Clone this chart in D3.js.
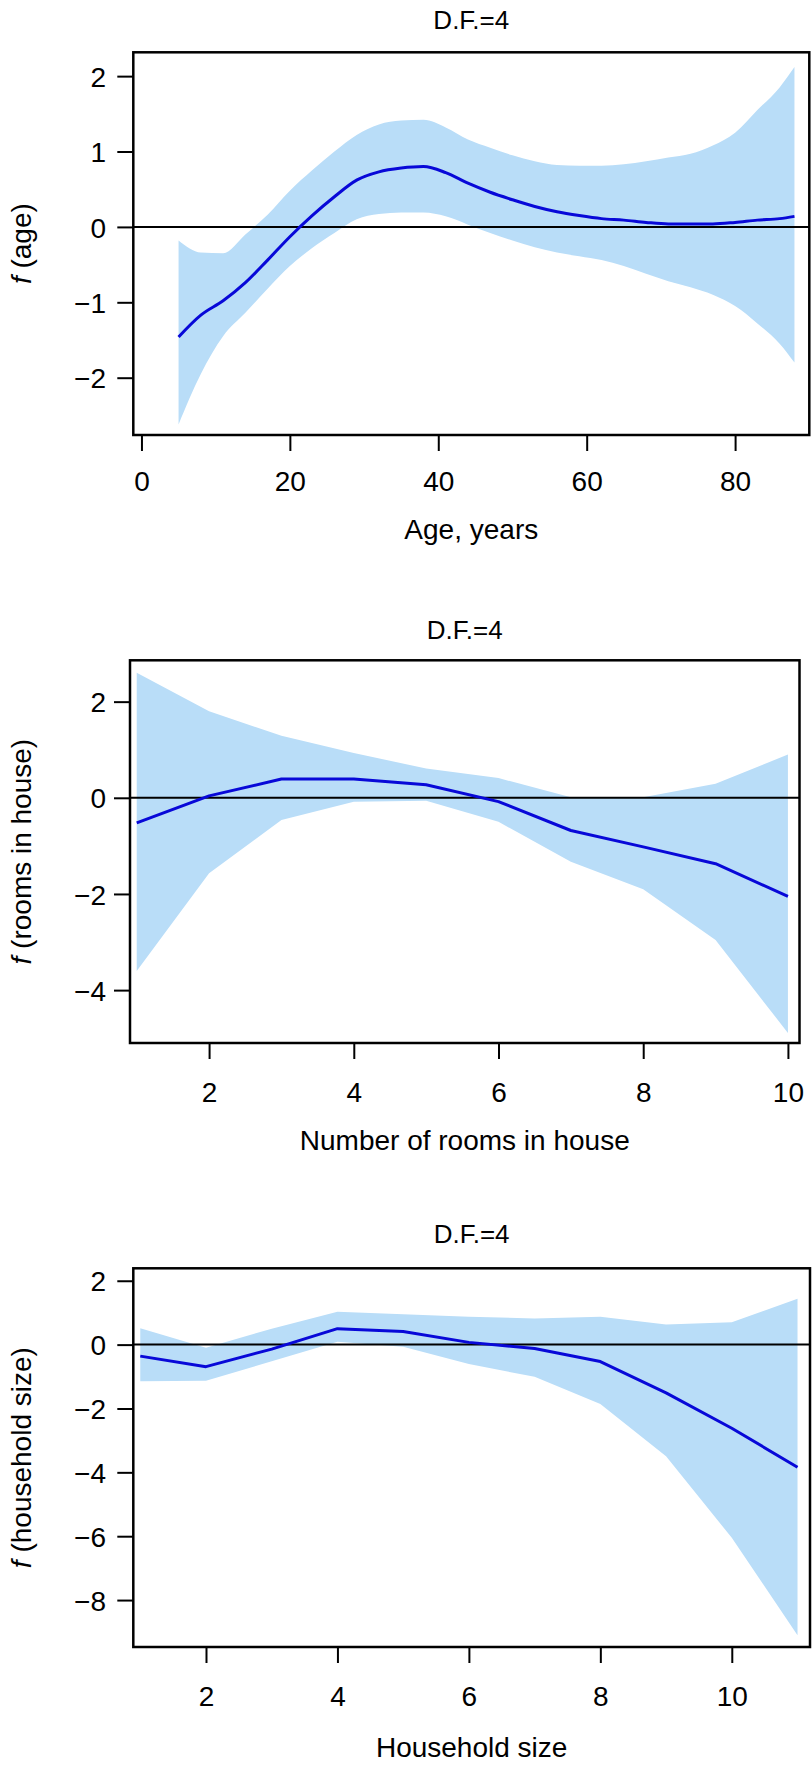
<!DOCTYPE html>
<html>
<head>
<meta charset="utf-8">
<script src="https://cdn.jsdelivr.net/npm/d3@7"></script>
<style>
  body { margin: 0; background: #fff; }
  svg text { font-family: "Liberation Sans", Arial, sans-serif; fill: #000; }
</style>
</head>
<body>
<div id="chart"></div>
<script>
// Smooth-term plots, three panels stacked

// Panel 1: age
const ageX     = [5, 8, 11, 14, 17, 20, 23, 26, 29, 32, 35, 38, 41, 44, 47, 50, 53, 56, 59, 62, 65, 68, 71, 74, 77, 80, 83, 86, 88]
const ageFit   = [-1.46, -1.17, -0.98, -0.74, -0.44, -0.13, 0.15, 0.40, 0.62, 0.73, 0.78, 0.80, 0.72, 0.58, 0.46, 0.36, 0.27, 0.20, 0.15, 0.11, 0.09, 0.06, 0.04, 0.04, 0.04, 0.06, 0.09, 0.11, 0.14]
const ageUpper = [-0.18, -0.34, -0.35, -0.10, 0.16, 0.48, 0.75, 1.00, 1.22, 1.36, 1.41, 1.42, 1.32, 1.16, 1.05, 0.95, 0.87, 0.82, 0.81, 0.81, 0.83, 0.87, 0.92, 0.97, 1.08, 1.25, 1.55, 1.85, 2.12]
const ageLower = [-2.62, -1.95, -1.45, -1.14, -0.82, -0.52, -0.28, -0.08, 0.10, 0.17, 0.19, 0.19, 0.14, 0.03, -0.08, -0.18, -0.27, -0.34, -0.39, -0.44, -0.52, -0.62, -0.72, -0.80, -0.90, -1.05, -1.28, -1.55, -1.80]
const ageXTicks = [0, 20, 40, 60, 80]
const ageYTicks = [-2, -1, 0, 1, 2]

// Panel 2: rooms in house
const roomsX     = [1, 2, 3, 4, 5, 6, 7, 8, 9, 10]
const roomsFit   = [-0.52, 0.04, 0.39, 0.39, 0.27, -0.08, -0.68, -1.02, -1.37, -2.05]
const roomsUpper = [2.60, 1.80, 1.29, 0.93, 0.61, 0.41, 0.01, 0.01, 0.29, 0.90]
const roomsLower = [-3.60, -1.57, -0.46, -0.08, -0.06, -0.50, -1.33, -1.90, -2.96, -4.89]
const roomsXTicks = [2, 4, 6, 8, 10]
const roomsYTicks = [-4, -2, 0, 2]

// Panel 3: household size
const hhX     = [1, 2, 3, 4, 5, 6, 7, 8, 9, 10, 11]
const hhFit   = [-0.36, -0.69, -0.14, 0.50, 0.41, 0.07, -0.12, -0.53, -1.51, -2.62, -3.84]
const hhUpper = [0.51, -0.10, 0.50, 1.03, 0.95, 0.87, 0.82, 0.87, 0.63, 0.70, 1.44]
const hhLower = [-1.15, -1.13, -0.52, 0.09, -0.07, -0.61, -1.01, -1.86, -3.50, -6.05, -9.10]
const hhXTicks = [2, 4, 6, 8, 10]
const hhYTicks = [-8, -6, -4, -2, 0, 2]

const titles  = ['D.F.=4', 'D.F.=4', 'D.F.=4']
const xLabels = ['Age, years', 'Number of rooms in house', 'Household size']
const yTerms  = ['(age)', '(rooms in house)', '(household size)']

const width = 812
const height = 1766
const bandColor = '#b9ddf8'
const lineColor = '#0808d8'
const fontSize = 28
const tickLen = 16
const labelRight = 106

const svg = d3.select('#chart')
  .append('svg')
  .attr('width', width)
  .attr('height', height)

const panels = [
  { x: ageX, fit: ageFit, upper: ageUpper, lower: ageLower, xTicks: ageXTicks, yTicks: ageYTicks,
    box: { left: 133.3, right: 809.3, top: 52.3, bottom: 435 },
    xDomain: [-1.1, 90.0], yDomain: [-2.76, 2.316],
    titleY: 19.5, tickLabelY: 481, xLabelY: 529, curve: d3.curveMonotoneX },
  { x: roomsX, fit: roomsFit, upper: roomsUpper, lower: roomsLower, xTicks: roomsXTicks, yTicks: roomsYTicks,
    box: { left: 130, right: 799.5, top: 660.3, bottom: 1043 },
    xDomain: [0.907, 10.16], yDomain: [-5.10, 2.86],
    titleY: 630, tickLabelY: 1092, xLabelY: 1140, curve: d3.curveLinear },
  { x: hhX, fit: hhFit, upper: hhUpper, lower: hhLower, xTicks: hhXTicks, yTicks: hhYTicks,
    box: { left: 133.3, right: 810, top: 1268.3, bottom: 1647 },
    xDomain: [0.894, 11.19], yDomain: [-9.47, 2.39],
    titleY: 1234, tickLabelY: 1696, xLabelY: 1747, curve: d3.curveLinear }
]

panels.forEach((p, i) => {
  const b = p.box
  const x = d3.scaleLinear().domain(p.xDomain).range([b.left, b.right])
  const y = d3.scaleLinear().domain(p.yDomain).range([b.bottom, b.top])
  const rows = p.x.map((v, j) => ({ x: v, fit: p.fit[j], lo: p.lower[j], hi: p.upper[j] }))

  const g = svg.append('g').attr('class', 'panel')

  // confidence band
  g.append('path')
    .datum(rows)
    .attr('fill', bandColor)
    .attr('d', d3.area()
      .curve(p.curve)
      .x(d => x(d.x))
      .y0(d => y(d.lo))
      .y1(d => y(d.hi)))

  // zero reference line
  g.append('line')
    .attr('x1', b.left).attr('x2', b.right)
    .attr('y1', y(0)).attr('y2', y(0))
    .attr('stroke', '#000')
    .attr('stroke-width', 2)

  // fitted smooth
  g.append('path')
    .datum(rows)
    .attr('fill', 'none')
    .attr('stroke', lineColor)
    .attr('stroke-width', 3)
    .attr('stroke-linejoin', 'round')
    .attr('d', d3.line()
      .curve(p.curve)
      .x(d => x(d.x))
      .y(d => y(d.fit)))

  // frame
  g.append('rect')
    .attr('x', b.left).attr('y', b.top)
    .attr('width', b.right - b.left)
    .attr('height', b.bottom - b.top)
    .attr('fill', 'none')
    .attr('stroke', '#000')
    .attr('stroke-width', 2.5)

  // x axis
  const xAxis = g.append('g')
    .attr('transform', `translate(0, ${b.bottom})`)
    .call(d3.axisBottom(x).tickValues(p.xTicks).tickSize(tickLen).tickSizeOuter(0).tickFormat(d3.format('d')))
  xAxis.select('.domain').remove()
  xAxis.selectAll('.tick line').attr('stroke', '#000').attr('stroke-width', 2)
  xAxis.selectAll('.tick text')
    .attr('y', p.tickLabelY - b.bottom)
    .attr('dy', '0.36em')
    .attr('fill', '#000')
    .style('font-size', `${fontSize}px`)
    .style('font-family', '"Liberation Sans", Arial, sans-serif')

  // y axis
  const yAxis = g.append('g')
    .attr('transform', `translate(${b.left}, 0)`)
    .call(d3.axisLeft(y).tickValues(p.yTicks).tickSize(tickLen).tickSizeOuter(0).tickFormat(d3.format('d')))
  yAxis.select('.domain').remove()
  yAxis.selectAll('.tick line').attr('stroke', '#000').attr('stroke-width', 2)
  yAxis.selectAll('.tick text')
    .attr('x', labelRight - b.left)
    .attr('dy', '0.36em')
    .attr('fill', '#000')
    .style('font-size', `${fontSize}px`)
    .style('font-family', '"Liberation Sans", Arial, sans-serif')

  const cx = (b.left + b.right) / 2
  const cy = (b.top + b.bottom) / 2

  // title
  g.append('text')
    .text(titles[i])
    .attr('x', cx)
    .attr('y', p.titleY)
    .attr('dy', '0.36em')
    .attr('text-anchor', 'middle')
    .style('font-size', '26px')

  // x label
  g.append('text')
    .text(xLabels[i])
    .attr('x', cx)
    .attr('y', p.xLabelY)
    .attr('dy', '0.36em')
    .attr('text-anchor', 'middle')
    .style('font-size', `${fontSize}px`)

  // y label, italic f
  const yl = g.append('text')
    .attr('transform', `translate(21, ${cy}) rotate(-90)`)
    .attr('dy', '0.36em')
    .attr('text-anchor', 'middle')
    .style('font-size', `${fontSize}px`)
  yl.append('tspan').text('f').style('font-style', 'italic')
  yl.append('tspan').text(' ' + yTerms[i])
})
</script>
</body>
</html>
